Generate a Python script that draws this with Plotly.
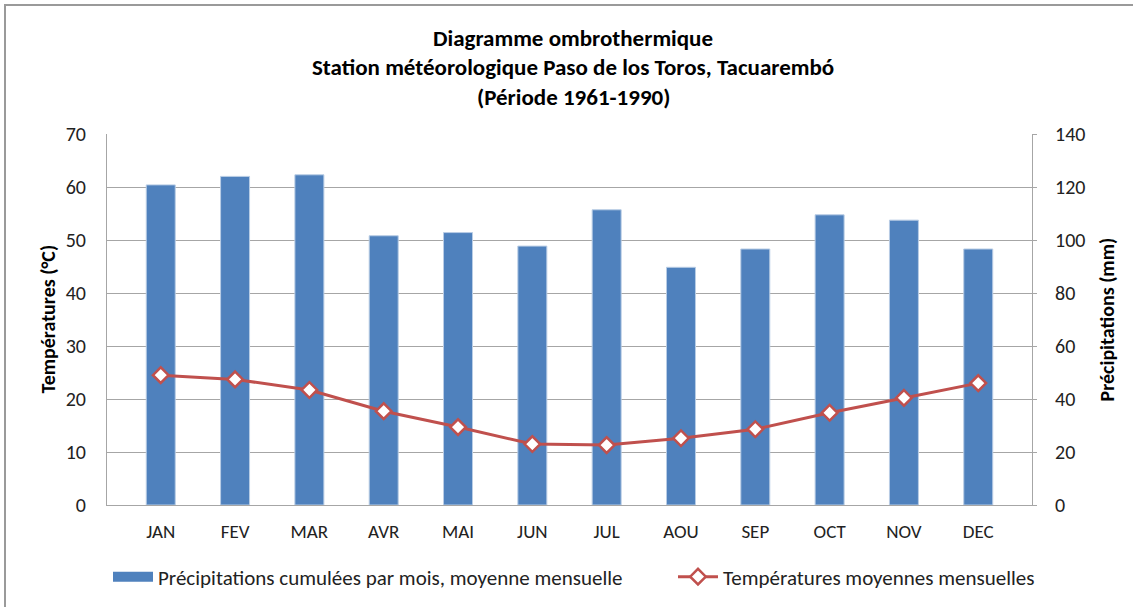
import plotly.graph_objects as go

months = ["JAN", "FEV", "MAR", "AVR", "MAI", "JUN", "JUL", "AOU", "SEP", "OCT", "NOV", "DEC"]
precip_mm = [120.8, 124.0, 124.6, 101.6, 102.8, 97.7, 111.4, 89.7, 96.6, 109.5, 107.5, 96.6]
temp_c = [24.5, 23.7, 21.7, 17.7, 14.7, 11.5, 11.3, 12.6, 14.3, 17.4, 20.2, 23.0]

title_lines = [
    "Diagramme ombrothermique",
    "Station météorologique Paso de los Toros, Tacuarembó",
    "(Période 1961-1990)",
]

FONT = "Carlito, Calibri, 'Liberation Sans Narrow', sans-serif"
GRID = "#a6a6a6"
TXT = "#222222"
BLUE = "#4F81BD"
RED = "#C0504D"

# plot area in pixels: x 107..1032, y 134..505
W, H = 1133, 607
L, R, T, B = 107, 1032, 134, 505
pw, ph = R - L, B - T


def px_x(px):
    return (px - L) / pw


def px_y(py):
    return (B - py) / ph


fig = go.Figure()

fig.add_trace(
    go.Bar(
        x=months,
        y=precip_mm,
        name="Précipitations cumulées par mois, moyenne mensuelle",
        marker=dict(color=BLUE, line=dict(color="#b9cde5", width=1)),
        yaxis="y",
        showlegend=False,
    )
)
# legend entry drawn as a wide block, like the Excel swatch
fig.add_trace(
    go.Scatter(
        x=[None],
        y=[None],
        name="Précipitations cumulées par mois, moyenne mensuelle",
        mode="lines",
        line=dict(color=BLUE, width=14),
        legend="legend",
    )
)

fig.add_trace(
    go.Scatter(
        x=months,
        y=temp_c,
        name="Températures moyennes mensuelles",
        mode="lines+markers",
        line=dict(color=RED, width=3),
        marker=dict(symbol="diamond", size=12, color="white",
                    line=dict(color=RED, width=2.5)),
        yaxis="y2",
        legend="legend2",
    )
)

annotations = []
for i, line in enumerate(title_lines):
    annotations.append(dict(
        text=f"<b>{line}</b>", xref="paper", yref="paper",
        x=px_x(573), y=px_y(38 + i * 29.5), xanchor="center", yanchor="middle",
        showarrow=False, font=dict(family=FONT, size=23, color="black"),
    ))
annotations.append(dict(
    text="<b>Températures (°C)</b>", xref="paper", yref="paper",
    x=px_x(47), y=0.5, xanchor="center", yanchor="middle", textangle=-90,
    showarrow=False, font=dict(family=FONT, size=20, color="black"),
))
annotations.append(dict(
    text="<b>Précipitations (mm)</b>", xref="paper", yref="paper",
    x=px_x(1106), y=0.5, xanchor="center", yanchor="middle", textangle=-90,
    showarrow=False, font=dict(family=FONT, size=20, color="black"),
))

fig.update_layout(
    width=W,
    height=H,
    margin=dict(l=L, r=W - R, t=T, b=H - B, autoexpand=False),
    paper_bgcolor="white",
    plot_bgcolor="white",
    font=dict(family=FONT, size=20, color=TXT),
    bargap=0.61,
    showlegend=True,
    annotations=annotations,
    xaxis=dict(
        showline=True,
        linecolor=GRID,
        linewidth=1,
        ticks="",
        tickfont=dict(family=FONT, size=19, color=TXT),
        ticklabelstandoff=9,
    ),
    yaxis=dict(
        range=[0, 140],
        dtick=20,
        side="right",
        showgrid=True,
        gridcolor=GRID,
        gridwidth=1,
        showline=True,
        linecolor=GRID,
        ticks="outside",
        ticklen=4,
        tickcolor=GRID,
        ticklabelstandoff=14,
        tickfont=dict(family=FONT, size=20, color=TXT),
        zeroline=False,
    ),
    yaxis2=dict(
        range=[0, 70],
        dtick=10,
        overlaying="y",
        side="left",
        showgrid=False,
        showline=True,
        linecolor=GRID,
        ticks="",
        ticklabelstandoff=16,
        tickfont=dict(family=FONT, size=20, color=TXT),
        zeroline=False,
    ),
    legend=dict(
        orientation="h",
        x=px_x(108),
        xanchor="left",
        y=px_y(577),
        yanchor="middle",
        font=dict(family=FONT, size=21, color=TXT),
        itemwidth=40,
    ),
    legend2=dict(
        orientation="h",
        x=px_x(673),
        xanchor="left",
        y=px_y(577),
        yanchor="middle",
        font=dict(family=FONT, size=21, color=TXT),
        itemwidth=40,
    ),
    shapes=[
        dict(type="rect", xref="paper", yref="paper",
             x0=px_x(5), x1=px_x(1160), y0=px_y(640), y1=px_y(5),
             line=dict(color="#9a9a9a", width=2), fillcolor="rgba(0,0,0,0)", layer="below"),
    ],
)

fig.write_html(
    "out.html",
    config={"displayModeBar": False},
    post_script="document.body.style.margin='0px';",
)
